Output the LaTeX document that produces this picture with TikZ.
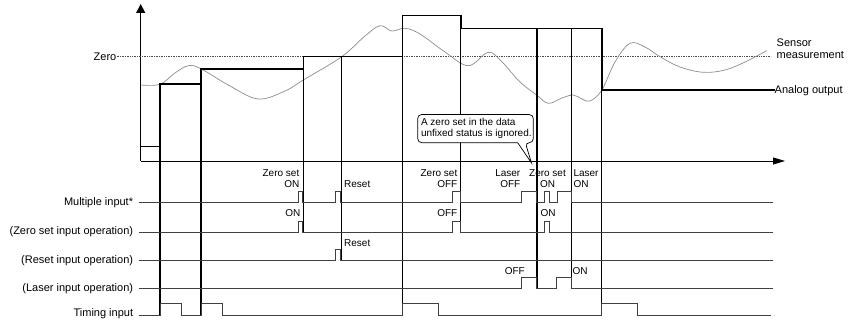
\documentclass[tikz,border=0pt]{standalone}
\usepackage{fontspec}
\setmainfont{Liberation Sans}
\usetikzlibrary{positioning,arrows.meta}

\begin{document}
\begin{tikzpicture}[
  x=1pt, y=-1pt,
  signame/.style={font=\fontsize{11}{12}\selectfont, anchor=east, inner sep=0pt},
  note/.style={font=\fontsize{10}{11}\selectfont, inner sep=0pt},
  output/.style={line width=1.6pt},
  drop/.style={line width=0.8pt},
  sigline/.style={line width=0.9pt, black!75},
  measure/.style={line width=0.7pt, black!45},
  zeroline/.style={line width=0.5pt, black!70, dash pattern=on 1pt off 0.7pt}
]
  \useasboundingbox (0,0) rectangle (851,320);

  % Axes
  \coordinate (o) at (140.7,161);
  \draw[line width=0.8pt, -{Triangle[length=9pt,width=9pt]}] (o) -- (140.7,4);
  \draw[line width=0.8pt, -{Triangle[length=12pt,width=7pt]}] (o) -- (785,161);

  % Zero level
  \node[signame] (zero) at (116.5,56.7) {Zero};
  \draw[zeroline] (zero.east) -- (771,56.7);

  % Sensor measurement
  \draw[measure] plot[smooth, tension=0.6] coordinates {
    (140.7,85) (160,84.3) (175,73) (188.3,65.7) (201,68.8) (230,86) (258.3,99)
    (285,91) (303.3,80) (341.7,56.7) (365,36) (380,25.7) (391.7,31) (405,28.3)
    (420,34) (445,52) (468.3,65.7) (488.3,52.3) (502,62) (520,82) (536.7,95)
    (548.3,103.3) (562,98) (573.3,95) (582,99) (590,101) (601.7,90.3) (615,62)
    (630,43.3) (645,47) (660,56.7) (680,67) (703.3,72.3) (725,70) (745,62)
    (766.7,50.7)};
  \node[signame, anchor=west, align=left] (sensor) at (776.5,49) {Sensor\\measurement};

  % Drop lines
  \foreach \x/\ya/\yb in {303.3/56.7/232, 341.7/56.7/260.5, 460.7/28.7/232,
                          571.7/28.7/288.5, 601.7/90.3/315}
    \draw[drop] (\x,\ya) -- (\x,\yb);
  \foreach \x/\ya/\yb in {160/84.3/315, 201/69/315, 402.3/15.7/315, 536.7/28.7/288.5}
    \draw[output] (\x,\ya) -- (\x,\yb);

  % Analog output
  \node[signame, anchor=west] (analog) at (774.5,90.3) {Analog output};
  \draw[output] (140.7,146.7) -| (160,84.3) -| (201,69) -| (303.3,56.7)
    -| (402.3,15.7) -| (460.7,28.7) -| (601.7,90.3) -- (analog.west);

  % Signal lines
  \node[signame] (multi) at (133.3,202.7) {Multiple input*};
  \node[signame] (zop) at (133.3,232) {(Zero set input operation)};
  \node[signame] (rop) at (133.3,260.5) {(Reset input operation)};
  \node[signame] (lop) at (133.3,288.5) {(Laser input operation)};
  \node[signame] (timing) at (133.3,314) {Timing input};

  \draw[sigline] ([xshift=6pt]multi.east |- 0,202.7)
    \foreach \a/\b in {298.3/302.7, 335.7/340.7, 452.3/460, 521.7/536.7, 544.3/549.3, 557.3/571.7}
      { -- (\a,202.7) -- (\a,191.3) -- (\b,191.3) -- (\b,202.7) } -- (772.7,202.7);
  \draw[sigline] ([xshift=6pt]zop.east |- 0,232)
    \foreach \a/\b in {298.3/302.7, 452.3/460, 544.3/549.3}
      { -- (\a,232) -- (\a,221) -- (\b,221) -- (\b,232) } -- (772.7,232);
  \draw[sigline] ([xshift=6pt]rop.east |- 0,260.5)
    -- (335.7,260.5) -- (335.7,249.3) -- (340.7,249.3) -- (340.7,260.5) -- (772.7,260.5);
  \draw[sigline] ([xshift=6pt]lop.east |- 0,288.5)
    \foreach \a/\b in {521.7/536.7, 556.7/571.7}
      { -- (\a,288.5) -- (\a,277.3) -- (\b,277.3) -- (\b,288.5) } -- (772.7,288.5);
  \draw[sigline] ([xshift=6pt]timing.east |- 0,315)
    \foreach \a/\b in {160/181, 201/222.7, 402.3/438.3, 601.7/637.3}
      { -- (\a,315) -- (\a,303.3) -- (\b,303.3) -- (\b,315) } -- (770.7,315);

  % Input notes
  \node[note, anchor=north east, align=right] (n1) at (299.5,169) {Zero set\\ON};
  \node[note, anchor=base west] (n2) at (344,187.5) {Reset};
  \node[note, anchor=north east, align=right] (n3) at (457.5,169) {Zero set\\OFF};
  \node[note, anchor=north east, align=right] (n4) at (520.5,169) {Laser\\OFF};
  \node[note, anchor=north, align=center] (n5) at (547.5,169) {Zero set\\ON};
  \node[note, anchor=north west, align=left] (n6) at (573.3,169) {Laser\\ON};
  \node[note, anchor=base east] (n7) at (300.5,217) {ON};
  \node[note, anchor=base east] (n8) at (457.5,217) {OFF};
  \node[note, anchor=base] (n9) at (548,217) {ON};
  \node[note, anchor=base west] (n10) at (344,247) {Reset};
  \node[note, anchor=base east] (n11) at (525,275) {OFF};
  \node[note, anchor=base west] (n12) at (572.3,275) {ON};

  % Callout
  \coordinate (bnw) at (417.7,114.5);
  \coordinate (bse) at (533.3,142.7);
  \coordinate (memotip) at (531.5,163);
  \draw[line width=0.7pt, fill=white, rounded corners=4pt]
    (bnw) -- (bnw -| bse) -- (bse) -- ([xshift=-8pt]bse) [sharp corners] -- (memotip)
    -- ([xshift=-15.6pt]bse) [rounded corners=4pt] -- (bnw |- bse) -- cycle;
  \node[note, anchor=west, align=left] (memo) at (420.8,128.6) {A zero set in the data\\unfixed status is ignored.};
\end{tikzpicture}
\end{document}
